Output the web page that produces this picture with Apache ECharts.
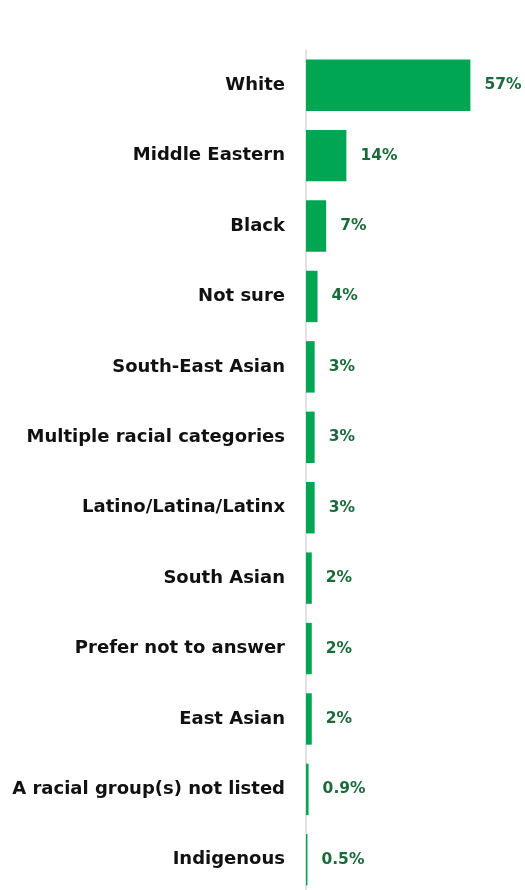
<!DOCTYPE html>
<html>
<head>
<meta charset="utf-8">
<script src="https://cdn.jsdelivr.net/npm/echarts@6/dist/echarts.min.js"></script>
<style>
  html, body { margin: 0; padding: 0; background: #ffffff; overflow: hidden; width: 525px; height: 890px; }
  #chart { width: 525px; height: 900px; }
</style>
</head>
<body>
<div id="chart"></div>
<script>
// Racial groups, top to bottom
const categories = [
  'White',
  'Middle Eastern',
  'Black',
  'Not sure',
  'South-East Asian',
  'Multiple racial categories',
  'Latino/Latina/Latinx',
  'South Asian',
  'Prefer not to answer',
  'East Asian',
  'A racial group(s) not listed',
  'Indigenous'
];
// Share of respondents (%)
const shares = [57, 14, 7, 4, 3, 3, 3, 2, 2, 2, 0.9, 0.5];

const chart = echarts.init(document.getElementById('chart'), null, { renderer: 'canvas' });

chart.setOption({
  animation: false,
  backgroundColor: '#ffffff',
  grid: { left: 306, top: 50, width: 199, height: 845, containLabel: false },
  xAxis: {
    type: 'value',
    min: 0,
    max: 69,
    show: false
  },
  yAxis: {
    type: 'category',
    data: categories,
    inverse: true,
    axisLine: { show: true, lineStyle: { color: '#d9d9d9', width: 1.5 } },
    axisTick: { show: false },
    splitLine: { show: false },
    axisLabel: {
      margin: 21,
      color: '#111111',
      fontFamily: 'DejaVu Sans',
      fontWeight: 'bold',
      fontSize: 18
    }
  },
  series: [{
    type: 'bar',
    data: shares,
    barCategoryGap: '27%',
    itemStyle: { color: '#00a651' },
    label: {
      show: true,
      position: 'right',
      distance: 14,
      color: '#1b6b3a',
      fontFamily: 'DejaVu Sans',
      fontWeight: 'bold',
      fontSize: 15.5,
      formatter: p => p.value + '%'
    }
  }]
});
</script>
</body>
</html>
